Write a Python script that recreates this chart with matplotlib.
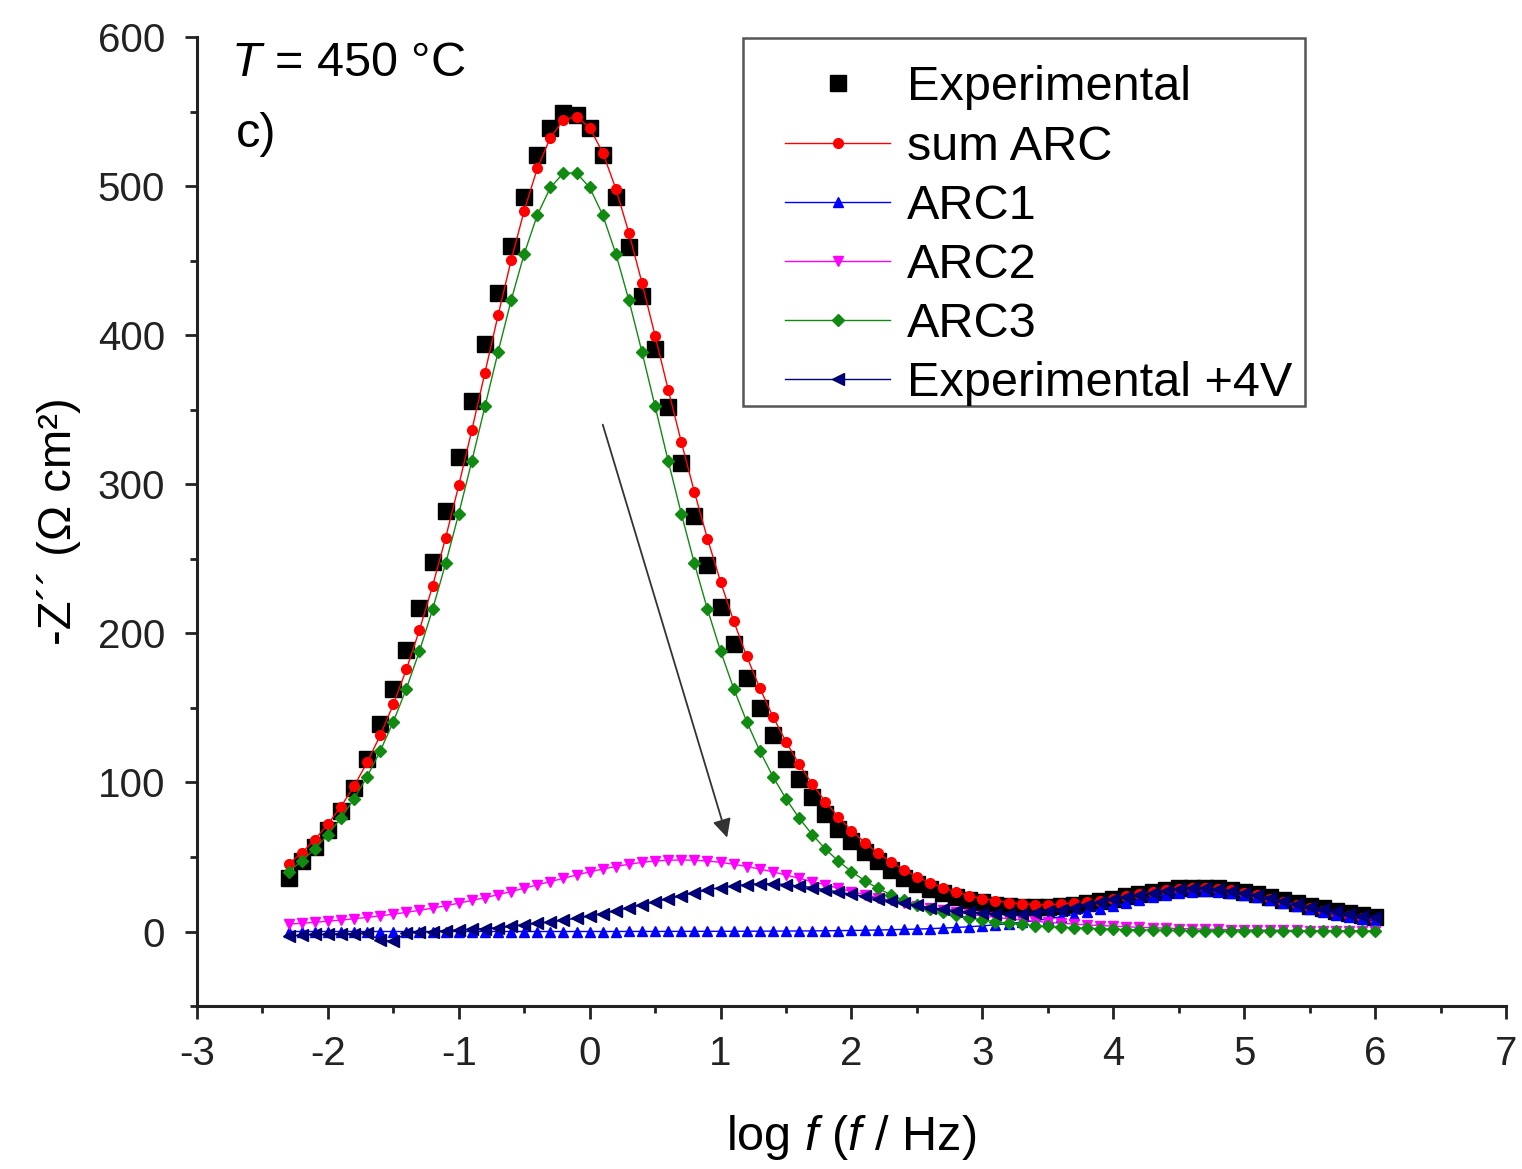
import matplotlib
matplotlib.use("Agg")
import matplotlib.pyplot as plt
from matplotlib.patches import Rectangle

plt.rcParams['font.family'] = ['Liberation Sans', 'DejaVu Sans']
plt.rcParams['mathtext.fontset'] = 'custom'
plt.rcParams['mathtext.rm'] = 'Liberation Sans'
plt.rcParams['mathtext.it'] = 'Liberation Sans:italic'
plt.rcParams['axes.unicode_minus'] = False

# log f grid (f / Hz)
logf = [-2.3, -2.2, -2.1, -2.0, -1.9, -1.8, -1.7, -1.6, -1.5, -1.4,
        -1.3, -1.2, -1.1, -1.0, -0.9, -0.8, -0.7, -0.6, -0.5, -0.4,
        -0.3, -0.2, -0.1, 0.0, 0.1, 0.2, 0.3, 0.4, 0.5, 0.6,
        0.7, 0.8, 0.9, 1.0, 1.1, 1.2, 1.3, 1.4, 1.5, 1.6,
        1.7, 1.8, 1.9, 2.0, 2.1, 2.2, 2.3, 2.4, 2.5, 2.6,
        2.7, 2.8, 2.9, 3.0, 3.1, 3.2, 3.3, 3.4, 3.5, 3.6,
        3.7, 3.8, 3.9, 4.0, 4.1, 4.2, 4.3, 4.4, 4.5, 4.6,
        4.7, 4.8, 4.9, 5.0, 5.1, 5.2, 5.3, 5.4, 5.5, 5.6,
        5.7, 5.8, 5.9, 6.0]

experimental = [36, 47, 57, 68, 81, 96, 116, 139, 163, 189,
                217, 248, 282, 318, 356, 394, 428, 460, 493, 521,
                539, 549, 548, 539, 521, 493, 459, 426, 391, 352,
                314, 279, 246, 218, 193, 170, 150, 132, 116, 102,
                90, 79, 69, 61, 53, 47, 41, 36, 32, 28.5,
                25.5, 23, 21, 19.5, 18, 17, 16.5, 16.5, 16.5, 17,
                18, 19, 20.5, 22, 23.5, 25, 26.5, 28, 29, 29.5,
                29.5, 29, 28, 26.5, 25, 23, 21, 19, 17, 15.5,
                14, 12.5, 11, 10]

sum_arc = [45.2, 52.7, 61.6, 71.9, 83.8, 97.5, 113.4, 131.6, 152.3, 175.9,
           202.3, 231.8, 264.2, 299.3, 336.4, 374.9, 413.3, 450.2, 483.6, 511.9,
           532.6, 544.5, 546.7, 539.1, 522.5, 498.2, 468.5, 435.0, 399.6, 363.4,
           328.4, 294.8, 263.5, 234.6, 208.3, 184.5, 163.2, 144.2, 127.2, 112.2,
           98.9, 87.2, 76.8, 67.7, 59.7, 52.7, 46.7, 41.4, 36.7, 32.7,
           29.3, 26.5, 24.0, 22.1, 20.6, 19.4, 18.7, 18.1, 18.1, 18.2,
           18.9, 19.6, 20.7, 22.0, 23.5, 24.9, 26.3, 27.7, 28.6, 29.1,
           29.1, 28.5, 27.6, 26.0, 24.2, 22.1, 20.0, 17.8, 15.6, 13.8,
           12.0, 10.3, 9.0, 7.6]

arc1 = [0, 0, 0, 0, 0, 0, 0, 0, 0, 0,
        0, 0, 0, 0, 0, 0, 0, 0, 0, 0,
        0, 0, 0, 0, 0, 0, 0.04, 0.04, 0.05, 0.06,
        0.08, 0.1, 0.11, 0.13, 0.15, 0.18, 0.21, 0.25, 0.30, 0.35,
        0.42, 0.50, 0.59, 0.70, 0.83, 1.0, 1.2, 1.4, 1.6, 1.9,
        2.3, 2.7, 3.2, 3.8, 4.5, 5.3, 6.2, 7.2, 8.5, 9.8,
        11.4, 13.1, 14.9, 16.9, 19.0, 21.0, 22.9, 24.6, 25.9, 26.7,
        27.0, 26.7, 25.9, 24.6, 22.9, 21.0, 19.0, 16.9, 14.9, 13.1,
        11.4, 9.8, 8.5, 7.2]

arc2 = [5.0, 5.5, 6.2, 6.9, 7.7, 8.5, 9.5, 10.5, 11.6, 12.9,
        14.2, 15.7, 17.3, 19.0, 20.8, 22.7, 24.7, 26.8, 29.0, 31.3,
        33.5, 35.7, 37.9, 40.0, 41.9, 43.6, 45.1, 46.4, 47.3, 47.8,
        48.0, 47.8, 47.3, 46.4, 45.1, 43.6, 41.9, 40.0, 37.9, 35.7,
        33.5, 31.3, 29.0, 26.8, 24.7, 22.7, 20.8, 19.0, 17.3, 15.7,
        14.2, 12.9, 11.6, 10.5, 9.5, 8.5, 7.7, 6.9, 6.2, 5.5,
        5.0, 4.4, 4.0, 3.6, 3.2, 2.8, 2.5, 2.3, 2.0, 1.8,
        1.6, 1.4, 1.3, 1.1, 1.0, 0.9, 0.8, 0.7, 0.6, 0.6,
        0.5, 0.45, 0.4, 0.36]

arc3 = [40.2, 47.2, 55.4, 65.0, 76.1, 89.0, 103.9, 121.1, 140.7, 163.0,
        188.1, 216.1, 246.9, 280.3, 315.6, 352.2, 388.6, 423.4, 454.6, 480.6,
        499.1, 508.8, 508.8, 499.1, 480.6, 454.6, 423.4, 388.6, 352.2, 315.6,
        280.3, 246.9, 216.1, 188.1, 163.0, 140.7, 121.1, 103.9, 89.0, 76.1,
        65.0, 55.4, 47.2, 40.2, 34.2, 29.0, 24.7, 21.0, 17.8, 15.1,
        12.8, 10.9, 9.2, 7.8, 6.6, 5.6, 4.8, 4.0, 3.4, 2.9,
        2.5, 2.1, 1.8, 1.5, 1.3, 1.1, 0.9, 0.8, 0.7, 0.6,
        0.5, 0.4, 0.35, 0.3, 0.25, 0.2, 0.18, 0.15, 0.13, 0.11,
        0.09, 0.08, 0.07, 0.06]

exp_4v = [-3.0, -2.5, -2.0, -2.0, -1.5, -1.5, -1.0, -6.0, -6.5, -1.0,
          -0.5, 0.0, 0.5, 1.0, 1.5, 2.0, 2.5, 3.5, 4.5, 5.5,
          6.5, 7.5, 9.0, 10.5, 12.0, 14.0, 16.0, 18.0, 20.0, 22.0,
          24.0, 26.0, 28.0, 29.5, 30.5, 31.5, 32.0, 32.0, 31.5, 30.5,
          29.5, 28.0, 26.5, 25.0, 23.5, 22.0, 20.5, 19.0, 17.5, 16.0,
          15.0, 14.0, 13.0, 12.5, 12.0, 12.0, 12.0, 12.5, 13.5, 14.5,
          16.0, 17.5, 19.5, 21.5, 23.0, 24.5, 26.0, 27.5, 28.5, 29.0,
          29.0, 28.5, 27.5, 26.0, 24.5, 22.5, 20.5, 18.5, 16.5, 15.0,
          13.5, 12.0, 10.5, 9.5]

fig = plt.figure(figsize=(15.22, 11.69), dpi=100)
ax = fig.add_axes([0.1294, 0.1394, 0.8601, 0.8289])

ax.plot(logf, experimental, 's', color='black', ms=11.5, label='Experimental', zorder=2)
ax.plot(logf, sum_arc, '-o', color='#ff0000', lw=1, ms=7, label='sum ARC', zorder=3)
ax.plot(logf, arc1, '-^', color='#0000ff', lw=1, ms=7.5, label='ARC1', zorder=3)
ax.plot(logf, arc2, '-v', color='#ff00ff', lw=1, ms=7.5, label='ARC2', zorder=3)
ax.plot(logf, arc3, '-D', color='#108a10', lw=1, ms=6, label='ARC3', zorder=3)
ax.plot(logf, exp_4v, '-<', color='#000080', lw=1, ms=8, mec='#000060',
        label='Experimental +4V', zorder=4)

ax.annotate('', xy=(1.05, 63), xytext=(0.10, 340),
            arrowprops=dict(arrowstyle='-|>', color='#333333', lw=1.3,
                            mutation_scale=28, shrinkA=0, shrinkB=0))

fig.text(0.152, 0.935, '$T$ = 450 °C', fontsize=35, va='baseline', ha='left')
fig.text(0.155, 0.874, 'c)', fontsize=35, va='baseline', ha='left')

ax.set_xlim(-3, 7)
ax.set_ylim(-50, 600)
ax.set_xticks(range(-3, 8))
ax.set_xticks([v + 0.5 for v in range(-3, 7)], minor=True)
ax.set_yticks(range(0, 601, 100))
ax.set_yticks(range(-50, 601, 100), minor=True)

for s in ['top', 'right']:
    ax.spines[s].set_visible(False)
for s in ['left', 'bottom']:
    ax.spines[s].set_linewidth(2.2)
    ax.spines[s].set_color('#222222')

ax.tick_params(which='major', direction='out', length=9, width=2,
               labelsize=29, colors='#222222')
ax.tick_params(axis='x', which='major', pad=12)
ax.tick_params(axis='y', which='major', pad=14)
ax.tick_params(which='minor', direction='out', length=5, width=2,
               colors='#222222')

ax.set_xlabel('log $f$ ($f$ / Hz)', fontsize=35, labelpad=29)
ax.set_ylabel('-Z´´ (Ω cm²)', fontsize=34, labelpad=12)

# legend box drawn separately so the inner padding can match
fig.patches.append(Rectangle((0.4882, 0.6527), 0.3693, 0.3148,
                             transform=fig.transFigure, fill=True,
                             facecolor='white', edgecolor='#555555',
                             lw=1.8, zorder=5))
leg = fig.legend(*ax.get_legend_handles_labels(), loc='upper left',
                 bbox_to_anchor=(0.5158, 0.944), fontsize=35,
                 handlelength=2.16, handletextpad=0.35, labelspacing=0.29,
                 borderpad=0, borderaxespad=0, frameon=False)
leg.set_zorder(6)

fig.savefig('out.png', dpi=100)
